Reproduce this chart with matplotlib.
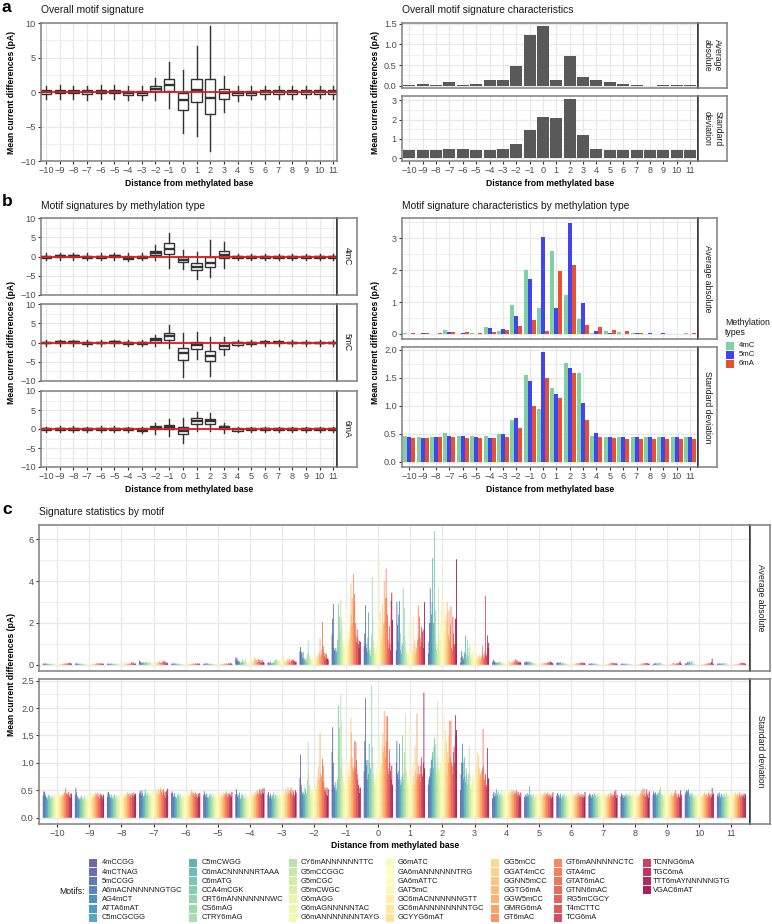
import numpy as np
import matplotlib
matplotlib.use('Agg')
import matplotlib.pyplot as plt
from matplotlib.patches import Rectangle

plt.rcParams['font.family'] = ['Liberation Sans', 'DejaVu Sans']
plt.rcParams['axes.unicode_minus'] = True

W, H = 772, 924
positions = list(range(-10, 12))
tick_labels = [str(p).replace('-', '\u2212') for p in positions]

# boxplot columns: whisker low, q1, median, q3, whisker high
overall_box = [
    [-1.0, -.25, 0, .25, .9], [-.95, -.2, .05, .3, .95], [-1.0, -.2, .05, .3, .9], [-1.1, -.3, -.05, .25, .9],
    [-.95, -.2, .05, .3, .95], [-.95, -.2, .05, .3, .95], [-1.15, -.45, -.1, .15, .8], [-1.2, -.45, -.15, .15, .8],
    [-1.2, .1, .5, .9, 2.05], [-2.3, .2, 1.0, 1.95, 4.4], [-6.0, -2.6, -1.1, -.15, 3.2], [-6.4, -1.5, .25, 1.85, 6.6],
    [-8.6, -3.25, -.9, 1.95, 9.5], [-2.9, -.95, -.2, .4, 2.3], [-1.3, -.5, -.15, .15, .85], [-1.05, -.4, -.1, .2, .8],
    [-.95, -.35, -.05, .25, .85], [-.95, -.3, 0, .25, .85], [-.95, -.3, 0, .25, .85], [-.9, -.3, 0, .25, .9],
    [-.9, -.3, 0, .25, .9], [-.95, -.3, 0, .25, .85]]
box_4mC = [
    [-.9, -.3, 0, .25, .8], [-.85, -.25, .05, .3, .85], [-.85, -.25, .05, .3, .8], [-1.0, -.4, -.1, .2, .8],
    [-.9, -.3, 0, .25, .8], [-.85, -.25, .05, .3, .9], [-1.2, -.6, -.3, .05, .8], [-.9, -.4, -.1, .2, .8],
    [-.9, .3, .9, 1.5, 2.9], [-3.1, .7, 2.0, 3.4, 6.2], [-3.2, -1.4, -.8, -.1, 1.7], [-5.9, -3.6, -2.7, -1.7, 1.2],
    [-5.4, -2.6, -1.7, -.1, 4.2], [-3.0, -.5, .5, 1.3, 3.8], [-.9, -.3, 0, .25, .7], [-.9, -.35, -.05, .2, .7],
    [-.9, -.3, 0, .25, .7], [-.9, -.3, 0, .25, .7], [-.85, -.3, 0, .25, .7], [-.85, -.3, 0, .25, .75],
    [-.85, -.3, 0, .25, .75], [-.85, -.3, 0, .25, .75]]
box_5mC = [
    [-.8, -.25, 0, .25, .7], [-.8, -.2, .05, .3, .75], [-.8, -.2, .05, .3, .75], [-.9, -.3, -.05, .2, .7],
    [-.8, -.25, 0, .25, .7], [-.8, -.2, .05, .3, .75], [-1.0, -.5, -.2, .1, .7], [-1.0, -.5, -.2, .1, .75],
    [-.8, .15, .6, 1.05, 1.9], [-1.5, .7, 1.6, 2.4, 4.6], [-9.0, -4.5, -2.8, -1.4, 2.5], [-4.3, -1.7, -.7, .1, 2.8],
    [-8.6, -4.9, -3.4, -2.2, 1.5], [-3.3, -1.6, -1.0, -.2, 1.3], [-1.0, -.6, -.2, .1, .6], [-.8, -.3, 0, .25, .65],
    [-.8, -.25, .05, .25, .7], [-.8, -.25, .05, .25, .7], [-.8, -.25, 0, .25, .7], [-.8, -.25, 0, .25, .7],
    [-.8, -.25, 0, .25, .7], [-.8, -.25, 0, .25, .7]]
box_6mA = [
    [-.75, -.25, 0, .2, .6], [-.7, -.2, .05, .3, .7], [-.7, -.2, .05, .3, .7], [-.8, -.3, -.05, .2, .6],
    [-.7, -.2, .05, .3, .7], [-.7, -.2, .05, .3, .7], [-.85, -.35, -.1, .15, .6], [-1.0, -.45, -.15, .15, .6],
    [-1.2, 0, .35, .7, 1.6], [-1.8, .1, .6, 1.0, 2.7], [-3.6, -1.2, -.4, .5, 2.9], [-.5, 1.3, 2.1, 2.8, 4.6],
    [-.6, 1.4, 2.1, 2.7, 4.3], [-1.1, .1, .4, .7, 1.7], [-.7, -.4, -.1, .1, .5], [-.8, -.3, -.05, .15, .55],
    [-.7, -.25, 0, .2, .6], [-.7, -.25, 0, .2, .6], [-.7, -.25, 0, .2, .6], [-.7, -.25, 0, .2, .6],
    [-.7, -.25, 0, .2, .6], [-.7, -.25, 0, .2, .6]]

overall_avg = [.01, .04, .01, .08, .02, .03, .15, .13, .47, 1.22, 1.45, .15, .73, .22, .15, .09, .04, .02, .005, .01, .01, .02]
overall_sd = [.44, .42, .44, .47, .46, .44, .45, .47, .74, 1.45, 2.15, 2.08, 3.08, 1.22, .49, .43, .43, .43, .43, .43, .43, .43]

avg_4mC = [.03, .01, .01, .12, .01, .02, .23, .08, .92, 2.0, .8, 2.6, 1.22, .48, .04, .08, .06, .03, .01, .01, .01, .02]
avg_5mC = [.01, .03, .01, .07, .03, .01, .19, .16, .56, 1.72, 3.02, .8, 3.46, .96, .1, .04, .01, .02, .03, .02, .01, .01]
avg_6mA = [.02, .02, .03, .05, .06, .03, .06, .11, .24, .45, .1, 1.98, 2.16, .28, .21, .14, .08, .03, .01, .01, .01, .02]
sd_4mC = [.46, .45, .45, .51, .46, .46, .47, .49, .75, 1.55, .94, 1.32, 1.77, 1.59, .46, .44, .44, .45, .44, .45, .45, .45]
sd_5mC = [.45, .42, .44, .47, .46, .44, .43, .5, .79, 1.45, 1.96, 1.22, 1.67, 1.06, .52, .44, .44, .45, .44, .44, .44, .44]
sd_6mA = [.43, .42, .45, .44, .43, .43, .43, .44, .6, 1.0, 1.5, 1.14, 1.59, .74, .44, .42, .41, .41, .41, .41, .41, .41]

motifs = ['4mCCGG', '4mCTNAG', '5mCCGG', 'A6mACNNNNNNGTGC', 'AG4mCT', 'ATTA6mAT', 'C5mCGCGG',
          'C5mCWGG', 'C6mACNNNNNRTAAA', 'C6mATG', 'CCA4mCGK', 'CRT6mANNNNNNNWC', 'CS6mAG', 'CTRY6mAG',
          'CY6mANNNNNNTTC', 'G5mCCGGC', 'G5mCGC', 'G5mCWGC', 'G6mAGG', 'G6mAGNNNNNTAC', 'G6mANNNNNNNTAYG',
          'G6mATC', 'GA6mANNNNNNTRG', 'GA6mATTC', 'GAT5mC', 'GC6mACNNNNNNGTT', 'GC6mANNNNNNNNTGC', 'GCYYG6mAT',
          'GG5mCC', 'GGAT4mCC', 'GGNN5mCC', 'GGTG6mA', 'GGW5mCC', 'GMRG6mA', 'GT6mAC',
          'GT6mANNNNNCTC', 'GTA4mC', 'GTAT6mAC', 'GTNN6mAC', 'RG5mCGCY', 'T4mCTTC', 'TCG6mA',
          'TCNNG6mA', 'TGC6mA', 'TTT6mAYNNNNNGTG', 'VGAC6mAT']

# panel c, one row per position, one value per motif
motif_avg = [
    [.05,.06,.04,.05,.07,.03,.06,.04,.05,.03, .04,.05,.03,.04,.06,.03,.04,.05,.03,.02, .04,.05,.03,.04,.05,.03,.04,.06,.03,.05, .04,.03,.05,.06,.04,.05,.07,.04,.06,.05, .08,.06,.10,.07,.04,.06],
    [.04,.06,.07,.05,.03,.06,.04,.03,.05,.06, .03,.02,.04,.05,.03,.04,.02,.03,.05,.04, .03,.02,.04,.03,.05,.03,.02,.04,.03,.05, .04,.06,.03,.05,.07,.04,.06,.05,.08,.04, .06,.03,.07,.05,.04,.05],
    [.05,.04,.06,.03,.05,.04,.06,.05,.03,.04, .05,.03,.06,.04,.05,.03,.04,.06,.05,.04, .08,.18,.05,.04,.06,.03,.14,.05,.04,.03, .06,.05,.04,.07,.05,.04,.06,.04,.09,.12, .05,.13,.06,.04,.05,.06],
    [.2,.16,.12,.08,.1,.07,.12,.09,.06,.1, .12,.14,.08,.1,.16,.07,.1,.12,.08,.09, .06,.08,.1,.07,.09,.1,.08,.12,.07,.1, .14,.09,.16,.1,.12,.08,.15,.1,.2,.12, .16,.08,.14,.06,.1,.07],
    [.05,.06,.04,.05,.07,.06,.04,.05,.04,.06, .03,.05,.04,.05,.03,.04,.03,.05,.04,.03, .04,.03,.02,.04,.03,.02,.04,.03,.05,.03, .04,.02,.05,.03,.04,.06,.03,.05,.07,.03, .05,.04,.08,.03,.06,.04],
    [.04,.06,.05,.03,.07,.05,.06,.04,.03,.05, .06,.04,.03,.05,.04,.03,.04,.03,.05,.03, .02,.04,.03,.05,.03,.04,.02,.03,.05,.04, .03,.05,.04,.06,.03,.05,.04,.06,.03,.05, .07,.04,.06,.08,.05,.04],
    [.35,.25,.34,.18,.2,.12,.16,.1,.08,.13, .15,.26,.12,.18,.14,.28,.2,.1,.14,.08, .12,.1,.18,.08,.14,.12,.22,.1,.16,.12, .36,.2,.3,.16,.24,.14,.28,.12,.22,.1, .2,.12,.24,.08,.14,.1],
    [.1,.12,.08,.06,.14,.07,.05,.08,.06,.1, .12,.2,.24,.14,.28,.18,.1,.2,.26,.12, .16,.3,.14,.18,.32,.46,.2,.14,.18,.12, .08,.26,.22,.14,.3,.16,.1,.24,.18,.26, .14,.22,.2,.16,.12,.14],
    [.65,.85,.55,.62,.3,.6,.35,.25,.3,.2, .15,.3,.5,1.15,.6,.4,.3,.25,.2,.3, .35,.25,.4,.3,.2,.35,.25,.4,.3,.5, .35,.6,1.25,.4,.5,.75,2.05,.9,.6,.4, .55,.3,.5,.25,.3,.25],
    [1.45,2.2,2.9,.8,.7,.65,.8,.6,.7,1.2, 2.9,1.4,2.3,1.6,3.1,2.2,1.8,1.1,.9,.7, .8,1.2,1.0,2.7,1.3,.8,1.0,1.6,1.3,1.9, 3.9,2.4,3.2,2.0,4.35,3.0,3.4,2.0,1.4,1.1, 1.7,1.3,1.0,.8,1.15,1.1],
    [.9,1.5,2.85,1.0,.8,.6,1.3,2.5,.7,.5, .4,.8,1.5,4.2,2.1,1.1,.8,.6,.5,.7, .9,1.2,1.8,2.2,5.05,2.6,2.5,1.7,1.2,2.9, 1.4,2.0,4.0,2.1,3.2,4.6,3.2,2.4,1.2,.8, 1.85,1.0,.7,3.05,3.45,2.15],
    [.7,3.0,1.9,1.1,2.4,3.05,1.5,.7,.5,.9, 1.0,3.65,1.4,2.7,1.1,.8,.6,.5,.3,.6, .5,1.9,.7,.5,.8,1.0,.7,2.3,.6,1.2, .9,.5,.8,.6,1.2,2.85,1.4,2.3,1.3,.9, 1.8,1.1,1.6,.8,1.7,3.0],
    [.55,1.1,2.0,3.65,2.0,2.4,3.0,5.1,2.0,1.5, 6.4,2.6,1.0,.7,.5,1.0,3.7,1.5,.8,1.2, 2.0,2.6,3.1,1.7,1.3,3.0,1.6,2.4,1.0,2.1, 3.0,2.5,1.4,2.6,1.2,1.9,2.8,.8,.7,2.3, 1.5,.9,1.0,2.2,2.2,5.05],
    [.1,.35,.65,.4,.2,.3,.6,.5,1.4,.5, .3,1.2,.8,.4,.6,1.0,.3,.5,.2,.6, .3,.4,.5,1.1,.8,.4,.5,.3,.2,.4, .3,.5,.2,.35,.4,.9,.5,.3,.4,.6, 3.3,.5,.4,1.4,.8,1.05],
    [.12,.2,.25,.15,.08,.12,.1,.06,.1,.14, .08,.12,.16,.08,.1,.06,.05,.08,.1,.06, .08,.12,.06,.1,.14,.2,.12,.18,.1,.08, .12,.14,.08,.2,.12,.16,.2,.28,.16,.22, .14,.12,.16,.1,.14,.1],
    [.1,.14,.08,.16,.12,.14,.1,.18,.08,.14, .1,.12,.06,.08,.05,.07,.04,.06,.08,.05, .06,.04,.08,.05,.06,.08,.05,.07,.06,.05, .08,.06,.09,.07,.1,.06,.12,.09,.1,.14, .12,.16,.1,.12,.08,.07],
    [.08,.1,.12,.06,.1,.08,.12,.06,.05,.08, .1,.06,.04,.05,.07,.04,.05,.03,.06,.04, .03,.05,.04,.06,.03,.05,.04,.06,.03,.05, .04,.06,.08,.05,.07,.04,.08,.1,.06,.09, .12,.07,.1,.06,.09,.05],
    [.04,.06,.03,.05,.07,.04,.06,.05,.03,.07, .04,.05,.03,.06,.03,.02,.03,.02,.03,.02, .03,.02,.04,.02,.03,.02,.03,.02,.03,.04, .02,.03,.05,.03,.06,.08,.05,.1,.07,.09, .06,.05,.08,.04,.06,.05],
    [.03,.05,.06,.04,.03,.06,.04,.03,.05,.04, .03,.06,.03,.04,.02,.03,.02,.04,.02,.03, .02,.04,.03,.05,.02,.03,.02,.03,.02,.03, .04,.03,.02,.05,.07,.04,.06,.08,.05,.07, .09,.06,.08,.05,.04,.06],
    [.03,.05,.04,.06,.08,.05,.07,.04,.09,.05, .07,.13,.06,.04,.05,.03,.04,.02,.03,.02, .03,.02,.04,.02,.03,.02,.03,.04,.02,.03, .05,.08,.04,.1,.06,.05,.03,.06,.04,.08, .06,.05,.09,.18,.07,.05],
    [.04,.08,.06,.05,.14,.07,.12,.17,.06,.1, .15,.19,.05,.08,.04,.03,.04,.02,.03,.02, .03,.02,.04,.02,.03,.02,.03,.02,.04,.03, .02,.04,.03,.05,.04,.07,.05,.06,.04,.08, .05,.09,.14,.3,.06,.05],
    [.04,.06,.03,.05,.07,.04,.06,.05,.07,.04, .06,.08,.05,.07,.04,.05,.03,.06,.02,.03, .02,.03,.02,.04,.02,.03,.02,.03,.02,.03, .03,.02,.04,.03,.05,.03,.06,.08,.05,.1, .07,.09,.06,.08,.05,.04],
]
motif_sd = [
    [.4,.48,.47,.44,.4,.36,.38,.33,.37,.42, .4,.36,.34,.38,.41,.36,.39,.34,.38,.43, .38,.42,.36,.4,.46,.41,.38,.43,.4,.37, .42,.39,.44,.41,.46,.42,.54,.45,.4,.43, .47,.41,.38,.44,.36,.44],
    [.42,.54,.46,.4,.37,.34,.36,.33,.35,.38, .4,.34,.36,.33,.38,.42,.34,.36,.33,.4, .35,.38,.42,.36,.44,.38,.34,.45,.36,.4, .42,.38,.45,.37,.43,.4,.46,.38,.42,.35, .44,.37,.42,.39,.34,.42],
    [.38,.46,.47,.43,.38,.36,.42,.36,.34,.4, .37,.43,.41,.35,.38,.42,.36,.4,.34,.42, .38,.45,.4,.37,.42,.38,.35,.44,.4,.37, .43,.39,.46,.41,.44,.38,.45,.41,.37,.44, .41,.46,.38,.43,.4,.44],
    [.44,.49,.46,.41,.5,.45,.4,.37,.42,.52, .45,.4,.47,.43,.4,.45,.38,.42,.46,.39, .44,.5,.41,.47,.43,.4,.55,.46,.5,.42, .54,.47,.43,.5,.55,.46,.5,.42,.52,.46, .4,.47,.36,.49,.42,.53],
    [.45,.48,.44,.38,.4,.45,.38,.33,.36,.42, .38,.44,.36,.4,.45,.37,.34,.4,.43,.37, .41,.45,.38,.43,.48,.4,.37,.44,.41,.38, .45,.4,.5,.44,.47,.42,.45,.4,.46,.38, .43,.36,.4,.44,.38,.45],
    [.41,.48,.44,.38,.42,.44,.37,.34,.38,.43, .37,.41,.44,.36,.4,.36,.43,.38,.35,.4, .45,.38,.43,.37,.41,.46,.39,.36,.44,.4, .37,.46,.4,.43,.38,.44,.48,.41,.37,.45, .4,.44,.36,.42,.38,.47],
    [.43,.52,.44,.38,.41,.35,.46,.33,.36,.42, .38,.44,.36,.41,.35,.38,.44,.36,.33,.4, .38,.43,.36,.4,.35,.42,.38,.46,.37,.41, .44,.39,.47,.42,.5,.46,.44,.4,.52,.45, .5,.42,.53,.46,.44,.54],
    [.42,.47,.4,.36,.44,.39,.34,.41,.37,.46, .4,.35,.43,.38,.41,.37,.44,.36,.4,.46, .39,.43,.37,.41,.48,.4,.5,.42,.55,.44, .48,.41,.56,.45,.5,.43,.48,.55,.44,.4, .5,.46,.42,.38,.5,.46],
    [.72,1.15,.6,.48,.44,.4,.46,.42,.55,.5, .45,.42,.7,1.38,.8,.6,.5,.44,.48,.42, .46,.5,.44,.52,.56,.6,.52,.58,.72,.85, .95,.7,1.55,.8,.75,.7,1.08,.95,.65,.5, .55,.48,.42,.55,.4,.52],
    [1.2,1.65,1.0,.6,.55,.5,.65,.48,.55,.7, 2.05,1.2,1.65,.9,2.25,1.75,1.1,.8,.65,.55, .6,.7,.9,1.05,.85,.7,.8,1.0,.75,.65, 1.83,1.55,1.1,.9,.85,.95,1.4,.9,1.38,1.05, .8,.7,.6,.55,.45,.55],
    [.85,1.4,2.18,1.05,.95,.7,1.05,.8,1.35,1.0, .9,.7,2.42,1.3,1.0,.8,.65,.55,.7,.65, .9,.75,.85,1.2,1.45,1.1,.8,.95,1.0,1.3, 1.55,1.2,1.95,1.3,1.1,1.85,1.4,1.85,.9,.8, 1.25,1.0,.85,.7,.95,.6],
    [1.0,1.4,.8,.7,.85,1.35,.7,.6,.65,.75, 1.5,.8,.7,1.2,.9,1.9,.85,.7,.6,.55, .7,1.7,.8,.65,.75,.9,.6,1.0,.75,.6, 1.3,.85,.7,1.9,.8,.95,.75,.8,.65,.95, 1.1,.8,.75,1.0,2.28,.9],
    [.6,.7,.75,.9,.8,1.05,1.1,1.2,.9,1.3, 1.46,1.35,1.0,.8,1.1,2.13,.9,.7,.85,1.0, .9,1.2,1.4,1.1,.95,1.9,1.25,1.6,1.0,1.4, .8,1.2,1.0,1.5,1.77,1.1,1.77,1.0,.95,.8, 1.2,1.3,1.0,1.87,1.5,1.6],
    [.5,.8,1.0,1.35,1.0,.7,1.1,.75,.65,.9, .8,.6,.7,.8,1.3,.8,.55,.5,.6,.7, .8,.7,.75,.8,.6,.9,1.0,1.2,.8,1.15, .9,.7,.8,.75,.85,.9,1.62,.95,.7,.6, .8,.55,.6,1.27,.7,.72],
    [.35,.42,.47,.38,.45,.4,.52,.39,.43,.48, .36,.41,.45,.38,.42,.5,.4,.37,.43,.47, .38,.44,.42,.5,.47,.41,.44,.48,.46,.43, .5,.44,.48,.42,.5,.45,.48,.43,.5,.45, .4,.47,.36,.42,.38,.46],
    [.38,.42,.36,.4,.45,.38,.42,.36,.58,.4, .44,.38,.41,.36,.44,.39,.35,.42,.37,.41, .44,.38,.42,.36,.4,.45,.38,.44,.41,.37, .44,.4,.46,.42,.38,.44,.41,.46,.4,.37, .43,.38,.42,.35,.38,.46],
    [.4,.45,.38,.42,.36,.4,.44,.37,.34,.4, .42,.37,.44,.4,.36,.42,.38,.35,.42,.38, .44,.37,.41,.45,.38,.42,.36,.4,.44,.38, .42,.37,.44,.4,.46,.41,.38,.44,.4,.37, .43,.38,.42,.36,.39,.47],
    [.4,.44,.38,.42,.36,.4,.43,.37,.41,.45, .38,.42,.36,.4,.44,.38,.46,.4,.36,.42, .38,.44,.4,.36,.42,.38,.44,.4,.36,.42, .38,.44,.4,.36,.42,.46,.4,.44,.38,.42, .36,.48,.4,.5,.36,.42],
    [.4,.44,.38,.42,.36,.41,.37,.4,.44,.38, .42,.36,.4,.44,.38,.42,.36,.4,.44,.38, .42,.37,.41,.45,.38,.42,.36,.4,.44,.38, .42,.45,.4,.5,.44,.52,.4,.53,.42,.38, .44,.52,.4,.44,.36,.48],
    [.42,.48,.44,.4,.46,.42,.38,.44,.4,.46, .5,.42,.56,.44,.38,.42,.36,.4,.44,.38, .42,.58,.44,.4,.48,.42,.38,.44,.4,.46, .42,.38,.44,.4,.46,.42,.5,.38,.44,.36, .4,.44,.38,.36,.5,.42],
    [.42,.46,.5,.44,.48,.52,.46,.4,.44,.38, .42,.46,.4,.36,.44,.38,.42,.36,.4,.44, .38,.42,.36,.4,.46,.4,.36,.42,.38,.44, .4,.46,.42,.38,.44,.36,.4,.46,.38,.42, .36,.44,.38,.54,.42,.44],
    [.4,.44,.38,.46,.42,.36,.4,.44,.38,.42, .36,.4,.44,.38,.42,.46,.4,.36,.42,.38, .44,.4,.36,.42,.48,.4,.36,.44,.38,.46, .42,.38,.44,.4,.36,.42,.46,.4,.36,.42, .38,.44,.4,.36,.44,.42],
]

GRID = '#E8E8E8'
BORDER = '#7F7F7F'
DARK = '#333333'
TICKC = '#4D4D4D'
RED = '#E3191C'
BAR = '#595959'
METH = ['#7FD1A3', '#4343F0', '#E6512F']
SIZE_TICK = 6.6
SIZE_TITLE = 7.4
SIZE_LAB = 6.2

fig = plt.figure(figsize=(W / 100, H / 100), dpi=100, facecolor='white')


def px_axes(x0, y0, x1, y1):
    return fig.add_axes([x0 / W, 1 - y1 / H, (x1 - x0) / W, (y1 - y0) / H])


def style(ax, xlim, ylim, yt, ym, bottom=False, labels=None):
    ax.set_xlim(*xlim)
    ax.set_ylim(*ylim)
    ax.set_axisbelow(True)
    ax.set_xticks(positions)
    ax.set_yticks(yt)
    ax.set_yticklabels([str(t).replace('-', '\u2212') for t in (labels if labels else yt)])
    ax.set_yticks(ym, minor=True)
    ax.grid(True, which='major', color=GRID, lw=0.95)
    ax.grid(True, which='minor', axis='y', color=GRID, lw=0.5)
    ax.tick_params(which='minor', length=0)
    ax.tick_params(axis='both', which='major', length=2.2, width=0.8, color=DARK, labelcolor=TICKC,
                   labelsize=SIZE_TICK, pad=1.5)
    if bottom:
        ax.set_xticklabels(tick_labels)
    else:
        ax.tick_params(axis='x', which='major', length=0, labelbottom=False)
    for s in ax.spines.values():
        s.set_color(BORDER)
        s.set_linewidth(1.1)


def strip(x0, y0, x1, y1, text, size=SIZE_LAB):
    ax = px_axes(x0, y0, x1, y1)
    ax.set_xticks([])
    ax.set_yticks([])
    for s in ax.spines.values():
        s.set_color(BORDER)
        s.set_linewidth(1.1)
    ax.spines['left'].set_color(DARK)
    ax.text(.5, .5, text, rotation=-90, ha='center', va='center', transform=ax.transAxes,
            fontsize=size, color='#1A1A1A', linespacing=1.2)


def boxes(ax, rows):
    stats = [dict(whislo=r[0], q1=r[1], med=r[2], q3=r[3], whishi=r[4], fliers=[]) for r in rows]
    ax.bxp(stats, positions=positions, widths=.75, showcaps=False, showfliers=False, patch_artist=True,
           manage_ticks=False,
           boxprops=dict(facecolor='white', edgecolor=DARK, linewidth=1.0),
           medianprops=dict(color=DARK, linewidth=1.7),
           whiskerprops=dict(color=DARK, linewidth=1.0))
    ax.axhline(0, color=RED, lw=1.3, zorder=5)


# panel a, left
xlim_box = (-10.37, 11.27)
ax = px_axes(41, 23, 337, 161)
style(ax, xlim_box, (-10, 10), [-10, -5, 0, 5, 10], [-7.5, -2.5, 2.5, 7.5], bottom=True)
boxes(ax, overall_box)

# panel a, right
xlim_bar = (-10.55, 11.6)
ax = px_axes(402, 23, 698, 88)
style(ax, xlim_bar, (-.055, 1.52), [0, .5, 1, 1.5], [.25, .75, 1.25], labels=['0.0', '0.5', '1.0', '1.5'])
ax.bar(positions, overall_avg, width=.9, color=BAR)
ax.spines['right'].set_color(DARK)
strip(698, 23, 727, 88, 'Average\nabsolute')

ax = px_axes(402, 96, 698, 161)
style(ax, xlim_bar, (-.14, 3.22), [0, 1, 2, 3], [.5, 1.5, 2.5], bottom=True)
ax.bar(positions, overall_sd, width=.9, color=BAR)
ax.spines['right'].set_color(DARK)
strip(698, 96, 727, 161, 'Standard\ndeviation')

# panel b, left
rows_b = [(218, 295, box_4mC, '4mC'), (304, 381, box_5mC, '5mC'), (391, 467, box_6mA, '6mA')]
for i, (y0, y1, rows, name) in enumerate(rows_b):
    ax = px_axes(41, y0, 337, y1)
    style(ax, xlim_box, (-10, 10), [-10, -5, 0, 5, 10], [-7.5, -2.5, 2.5, 7.5], bottom=i == 2)
    boxes(ax, rows)
    ax.spines['right'].set_color(DARK)
    strip(337, y0, 357, y1, name)

# panel b, right
x = np.array(positions)
bw = .9 / 3
ax = px_axes(402, 218, 698, 339)
style(ax, xlim_bar, (-.157, 3.63), [0, 1, 2, 3], [.5, 1.5, 2.5, 3.5])
for k, vals in enumerate([avg_4mC, avg_5mC, avg_6mA]):
    ax.bar(x + (k - 1) * bw, vals, width=bw, color=METH[k], linewidth=0)
ax.spines['right'].set_color(DARK)
strip(698, 218, 717, 339, 'Average absolute')

ax = px_axes(402, 347, 698, 467)
style(ax, xlim_bar, (-.09, 2.05), [0, .5, 1, 1.5, 2], [.25, .75, 1.25, 1.75], bottom=True,
      labels=['0.0', '0.5', '1.0', '1.5', '2.0'])
for k, vals in enumerate([sd_4mC, sd_5mC, sd_6mA]):
    ax.bar(x + (k - 1) * bw, vals, width=bw, color=METH[k], linewidth=0)
ax.spines['right'].set_color(DARK)
strip(698, 347, 717, 467, 'Standard deviation')

# panel c
colors = plt.get_cmap('Spectral_r')(np.linspace(0, 1, len(motifs)))
xlim_c = (-10.57, 11.58)


def motif_bars(ax, table):
    slot = .9 / len(motifs)
    for p, row in zip(positions, table):
        assert len(row) == len(motifs)
        xs = p - .45 + (np.arange(len(motifs)) + .5) * slot
        # a bit wider than the slot so the thin bars close up without white seams
        bars = ax.bar(xs, row, width=slot * 1.25, color=colors, linewidth=0)
        for b in bars:
            b.set_snap(False)


ax = px_axes(39, 525, 750, 671)
style(ax, xlim_c, (-.30, 6.69), [0, 2, 4, 6], [1, 3, 5])
motif_bars(ax, motif_avg)
ax.spines['right'].set_color(DARK)
strip(750, 525, 770, 671, 'Average absolute')

ax = px_axes(39, 679, 750, 824)
style(ax, xlim_c, (-.115, 2.53), [0, .5, 1, 1.5, 2, 2.5], [.25, .75, 1.25, 1.75, 2.25], bottom=True,
      labels=['0.0', '0.5', '1.0', '1.5', '2.0', '2.5'])
motif_bars(ax, motif_sd)
ax.spines['right'].set_color(DARK)
strip(750, 679, 770, 824, 'Standard deviation')

# overlay for titles, labels and legends, in pixel units
ov = fig.add_axes([0, 0, 1, 1], zorder=10)
ov.set_xlim(0, W)
ov.set_ylim(H, 0)
ov.axis('off')
ov.patch.set_alpha(0)

for lab, yy in [('a', 8), ('b', 202), ('c', 509)]:
    ov.text(2, yy, lab, fontsize=12.5, fontweight='bold', va='center', color='black')
for tx, ty, s in [(41, 10, 'Overall motif signature'), (402, 10, 'Overall motif signature characteristics'),
                  (41, 206, 'Motif signatures by methylation type'),
                  (402, 206, 'Motif signature characteristics by methylation type'),
                  (39, 512, 'Signature statistics by motif')]:
    ov.text(tx, ty, s, fontsize=SIZE_TITLE, va='center', color='#1A1A1A')
for tx, ty in [(189, 183), (550, 183), (189, 489), (550, 489), (395, 846)]:
    ov.text(tx, ty, 'Distance from methylated base', fontsize=SIZE_LAB, fontweight='bold', ha='center', va='center')
for tx, ty in [(12, 92), (375, 92), (12, 343), (375, 343), (12, 674)]:
    ov.text(tx, ty, 'Mean current differences (pA)', fontsize=SIZE_LAB, fontweight='bold', rotation=90,
            ha='center', va='center')

# methylation legend
ov.text(725, 322.5, 'Methylation', fontsize=6.3, va='center', color='#1A1A1A')
ov.text(725, 332.5, 'types', fontsize=6.3, va='center', color='#1A1A1A')
for k, name in enumerate(['4mC', '5mC', '6mA']):
    ov.add_patch(Rectangle((726, 341.5 + k * 9), 8, 8, facecolor=METH[k], edgecolor='none'))
    ov.text(739, 345.5 + k * 9, name, fontsize=5.6, va='center', color='#1A1A1A')

# motif legend
ov.text(85, 891, 'Motifs:', fontsize=6.2, ha='right', va='center', color='#1A1A1A')
col_x = [(89, 102), (189, 202), (289, 301), (386, 398), (491, 504), (554, 566), (643, 653)]
for i, name in enumerate(motifs):
    c, r = i // 7, i % 7
    sx, tx = col_x[c]
    yy = 863 + r * 9.1
    ov.add_patch(Rectangle((sx, yy - 4), 7.5, 8, facecolor=colors[i], edgecolor='none', alpha=.88))
    ov.text(tx, yy, name, fontsize=5.4, va='center', color='#1A1A1A')

fig.savefig('out.png', dpi=100, facecolor='white')
